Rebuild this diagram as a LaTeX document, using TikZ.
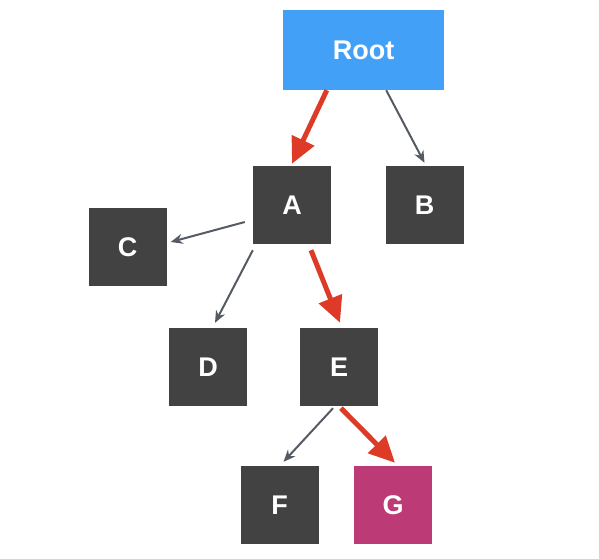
\documentclass[tikz,border=0pt]{standalone}
\usepackage{fontspec}
\setmainfont{Liberation Sans}
\usetikzlibrary{arrows.meta,calc}
\definecolor{boxc}{HTML}{424242}
\definecolor{rootc}{HTML}{42A1F7}
\definecolor{gc}{HTML}{BC3A76}
\definecolor{redc}{HTML}{DD3A27}
\definecolor{grayc}{HTML}{555A63}
\begin{document}
\begin{tikzpicture}[x=1pt,y=-1pt,
  boxnode/.style={fill=boxc,minimum width=78pt,minimum height=78pt,inner sep=0pt,text=white,font=\bfseries\fontsize{27}{30}\selectfont},
  redarrow/.style={draw=redc,line width=5pt,-{Triangle[length=26pt,width=24pt]}},
  grayarrow/.style={draw=grayc,line width=2pt,-{Stealth[length=12pt,width=10pt]}}]
\useasboundingbox (0,0) rectangle (599,558);
\node[boxnode,fill=rootc,minimum width=161pt,minimum height=80pt] (root) at (363.5,50) {Root};
\node[boxnode] (a) at (292,205) {A};
\node[boxnode] (b) at (424.5,205) {B};
\node[boxnode] (c) at (127.5,247) {C};
\node[boxnode] (d) at (208,367) {D};
\node[boxnode] (e) at (339,367) {E};
\node[boxnode] (f) at (279.5,505) {F};
\node[boxnode,fill=gc] (g) at (393,505) {G};
\draw[redarrow] ($(root.south west)+(44,0)$) -- ($(a.north)+(0,-2)$);
\draw[grayarrow] ($(root.south east)+(-58,0)$) -- ($(b.north)+(0,-3)$);
\draw[grayarrow] ($(a.west)+(-8,17)$) -- ($(c.east)+(4,-5)$);
\draw[grayarrow] ($(a.south west)+(0,6)$) -- ($(d.north)+(7,-5)$);
\draw[redarrow] ($(a.south)+(19,6)$) -- ($(e.north)+(1,-5)$);
\draw[grayarrow] ($(e.south)+(-6,2)$) -- ($(f.north)+(4,-4)$);
\draw[redarrow] ($(e.south)+(2,2)$) -- ($(g.north)+(2,-3)$);
\end{tikzpicture}
\end{document}
